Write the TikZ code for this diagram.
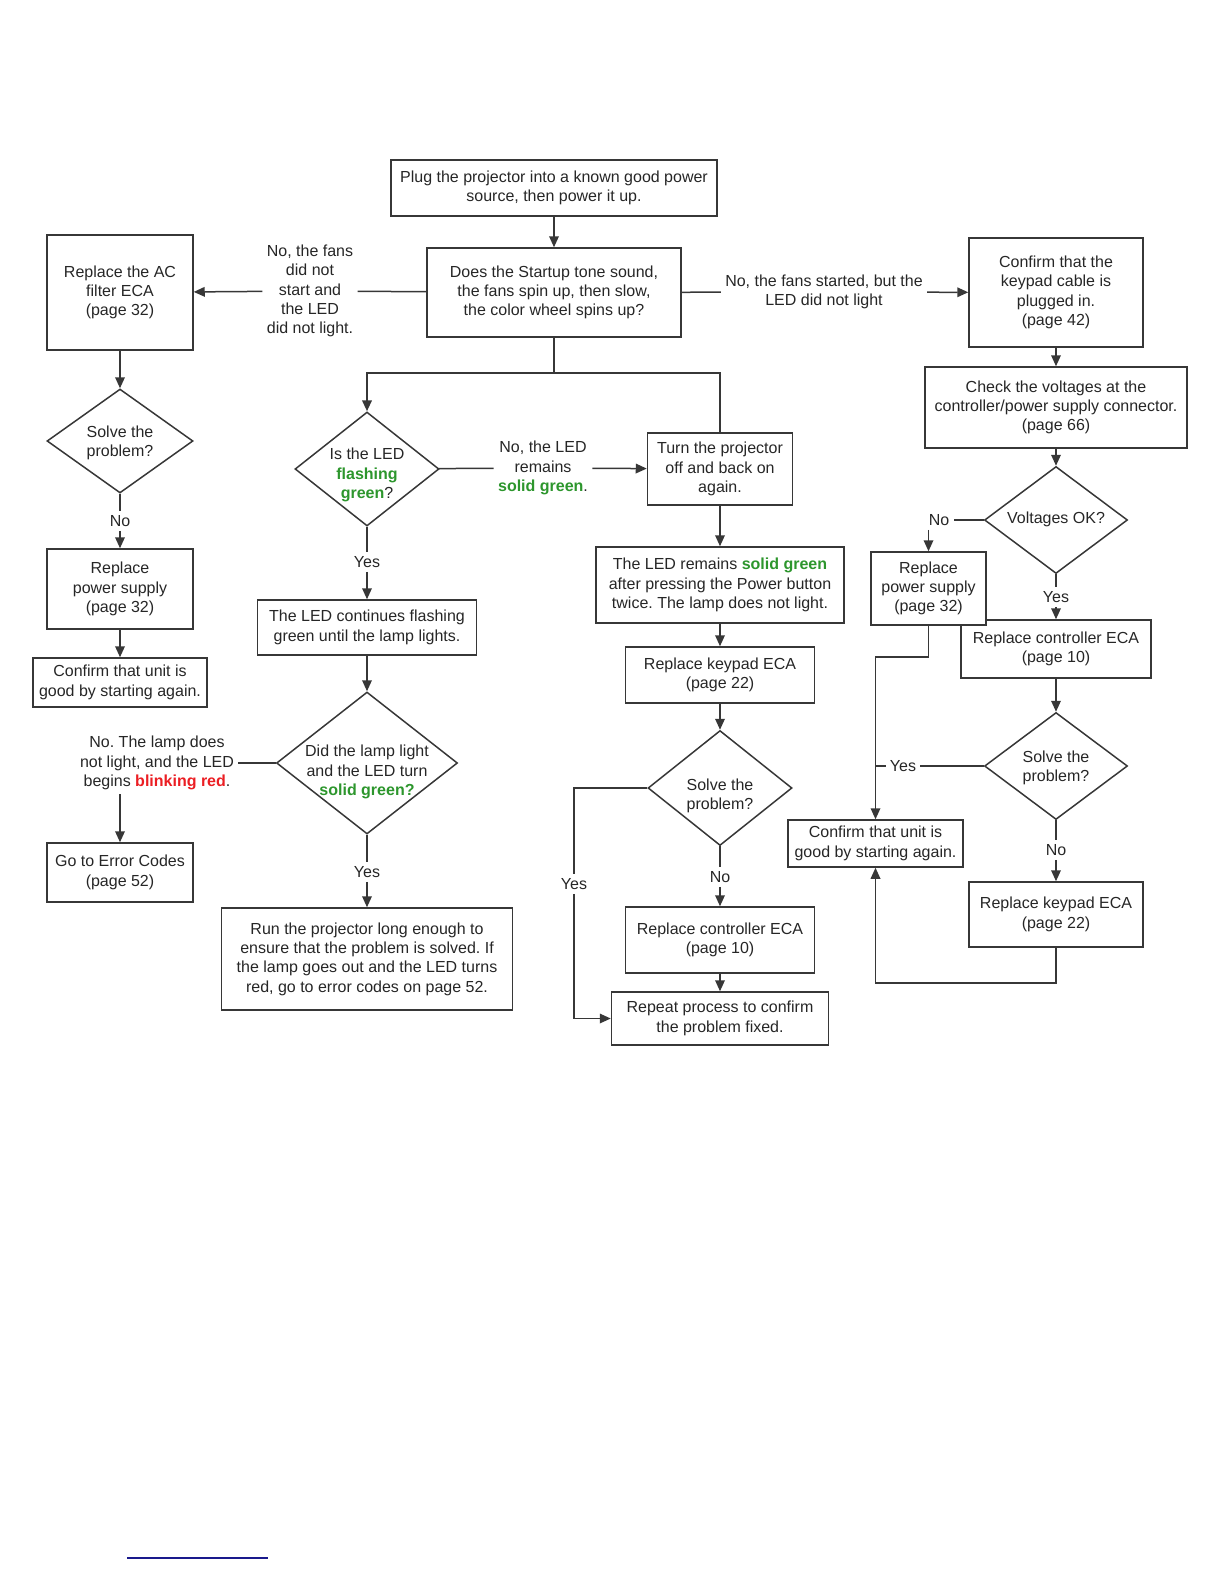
\documentclass[tikz,border=0pt]{standalone}
\usepackage{fontspec}
\setmainfont{Liberation Sans}
\usetikzlibrary{shapes.geometric,arrows.meta}
\frenchspacing

\definecolor{okgreen}{RGB}{45,150,45}
\definecolor{badred}{RGB}{235,30,35}
\definecolor{linegray}{RGB}{55,55,55}
\definecolor{rulenavy}{RGB}{25,25,140}

\newcommand{\good}[1]{\textcolor{okgreen}{\textbf{#1}}}
\newcommand{\bad}[1]{\textcolor{badred}{\textbf{#1}}}

\tikzset{
  txt/.style={align=center, inner sep=0pt, text=black!85, font=\fontsize{8}{9.65}\selectfont},
  qtxt/.style={txt, yshift=-1pt},
  box/.style={txt, draw=linegray, line width=0.75pt},
  choice/.style={draw=linegray, line width=0.75pt, diamond, inner sep=0pt},
  lbl/.style={txt, inner sep=2pt},
  link/.style={draw=linegray, line width=0.75pt},
  flow/.style={link, -{Triangle[length=5.5pt,width=4.8pt]}},
}

\begin{document}
\begin{tikzpicture}[x=0.5pt,y=-0.5pt]
\useasboundingbox (0,0) rectangle (1224,1584);

% top
\node[box, minimum width=163pt, minimum height=28pt] (plug) at (554,188) {Plug the projector into a known good power\\source, then power it up.};
\node[box, minimum width=127pt, minimum height=44.5pt] (startup) at (554,292.5) {Does the Startup tone sound,\\the fans spin up, then slow,\\the color wheel spins up?};
\coordinate (split) at (554,373);

% left column
\node[lbl] (nofans) at (310,291) {No, the fans\\did not\\start and\\the LED\\did not light.};
\node[box, minimum width=73pt, minimum height=57.5pt] (acfilter) at (120,292.5) {Replace the AC\\filter ECA\\(page 32)};
\node[choice, minimum width=73pt, minimum height=52pt, label={[qtxt]center:{Solve the\\problem?}}] (solveac) at (120,441) {};
\node[lbl] (noac) at (120,521) {No};
\node[box, minimum width=73pt, minimum height=40pt] (psleft) at (120,589) {Replace\\power supply\\(page 32)};
\node[box, minimum width=87pt, minimum height=24.5pt] (confleft) at (120,682.5) {Confirm that unit is\\good by starting again.};
\node[lbl] (lampout) at (157,763) {No. The lamp does\\not light, and the LED\\begins \bad{blinking red}.};
\node[box, minimum width=73pt, minimum height=29.5pt] (errcodes) at (120,872.5) {Go to Error Codes\\(page 52)};

% flashing branch
\node[choice, minimum width=72pt, minimum height=57pt, label={[qtxt, yshift=-2pt]center:{Is the LED\\\good{flashing}\\\good{green}?}}] (flashq) at (367,469) {};
\node[lbl] (yesflash) at (367,562) {Yes};
\node[box, minimum width=109.5pt, minimum height=27.5pt] (flashing) at (367,627.5) {The LED continues flashing\\green until the lamp lights.};
\node[choice, minimum width=90.5pt, minimum height=71pt, label={[qtxt, yshift=-3.5pt]center:{Did the lamp light\\and the LED turn\\\good{solid green?}}}] (lampq) at (367,763) {};
\node[lbl] (yeslamp) at (367,872) {Yes};
\node[box, minimum width=145.5pt, minimum height=51pt] (runlong) at (367,959) {Run the projector long enough to\\ensure that the problem is solved. If\\the lamp goes out and the LED turns\\red, go to error codes on page 52.};

% solid green branch
\node[lbl] (nosolid) at (543,468) {No, the LED\\remains\\\good{solid green}.};
\node[box, minimum width=72.5pt, minimum height=36pt] (cycle) at (720,469) {Turn the projector\\off and back on\\again.};
\node[box, minimum width=124pt, minimum height=38pt] (remains) at (720,585) {The LED remains \good{solid green}\\after pressing the Power button\\twice. The lamp does not light.};
\node[box, minimum width=94.5pt, minimum height=28pt] (keymid) at (720,675) {Replace keypad ECA\\(page 22)};
\node[choice, minimum width=72pt, minimum height=57.5pt, label={[qtxt, yshift=-3pt]center:{Solve the\\problem?}}] (solvemid) at (720,788) {};
\node[lbl] (nomid) at (720,877) {No};
\node[lbl] (yesmid) at (574,884) {Yes};
\node[box, minimum width=94.5pt, minimum height=33pt] (ctrlmid) at (720,940) {Replace controller ECA\\(page 10)};
\node[box, minimum width=108.5pt, minimum height=26.5pt] (repeat) at (720,1018.5) {Repeat process to confirm\\the problem fixed.};

% right column
\node[lbl] (nolight) at (824,292) {No, the fans started, but the\\LED did not light};
\node[box, minimum width=87pt, minimum height=54.5pt] (cable) at (1056,292.5) {Confirm that the\\keypad cable is\\plugged in.\\(page 42)};
\node[box, minimum width=131pt, minimum height=40.5pt] (voltages) at (1056,407.5) {Check the voltages at the\\controller/power supply connector.\\(page 66)};
\node[choice, minimum width=71.5pt, minimum height=53.5pt, label={[txt, yshift=0.5pt]center:{Voltages OK?}}] (voltq) at (1056,520) {};
\node[lbl] (novolt) at (939,520) {No};
\node[lbl] (yesvolt) at (1056,597) {Yes};
\node[box, minimum width=95pt, minimum height=29pt] (ctrlright) at (1056,649) {Replace controller ECA\\(page 10)};
\node[box, fill=white, minimum width=57.5pt, minimum height=36.5pt] (psright) at (928.5,588.5) {Replace\\power supply\\(page 32)};
\node[choice, minimum width=71.5pt, minimum height=53.5pt, label={[qtxt]center:{Solve the\\problem?}}] (solveright) at (1056,766) {};
\node[lbl] (yesright) at (903,766) {Yes};
\node[lbl] (noright) at (1056,850) {No};
\node[box, minimum width=87pt, minimum height=32.5pt] (keyright) at (1056,914.5) {Replace keypad ECA\\(page 22)};
\node[box, minimum width=87.5pt, minimum height=23.5pt] (confright) at (875.5,843.5) {Confirm that unit is\\good by starting again.};

% connectors
\draw[flow] (plug) -- (startup);
\draw[link] (startup) -- (nofans);
\draw[flow] (nofans) -- (acfilter);
\draw[flow] (acfilter) -- (solveac);
\draw[link] (solveac) -- (noac);
\draw[flow] (noac) -- (psleft);
\draw[flow] (psleft) -- (confleft);
\draw[link, line width=1pt] (startup) -- (split);
\draw[flow, line width=1pt] (split) -| (flashq.north);
\draw[link] (split) -| (cycle.north);
\draw[link] (flashq) -- (nosolid);
\draw[flow] (nosolid) -- (cycle);
\draw[link] (flashq) -- (yesflash);
\draw[flow] (yesflash) -- (flashing);
\draw[flow] (flashing) -- (lampq);
\draw[link] (lampq) -- (lampout);
\draw[flow] (lampout.south -| errcodes.north) -- (errcodes);
\draw[link] (lampq) -- (yeslamp);
\draw[flow] (yeslamp) -- (runlong);
\draw[flow] (cycle) -- (remains);
\draw[flow] (remains) -- (keymid);
\draw[flow] (keymid) -- (solvemid);
\draw[link] (solvemid) -- (nomid);
\draw[flow] (nomid) -- (ctrlmid);
\draw[flow] (ctrlmid) -- (repeat);
\draw[link] (solvemid.west) -| (yesmid);
\draw[flow] (yesmid) |- (repeat.west);
\draw[link] (startup) -- (nolight);
\draw[flow] (nolight) -- (cable);
\draw[flow] (cable) -- (voltages);
\draw[flow] (voltages) -- (voltq);
\draw[link] (voltq) -- (novolt);
\draw[flow] (novolt.south -| psright.north) -- (psright);
\draw[link] (voltq) -- (yesvolt);
\draw[flow] (yesvolt) -- (ctrlright);
\draw[flow] (ctrlright) -- (solveright);
\draw[link] (solveright) -- (yesright);
\draw[link] (yesright.west) -- (yesright.west -| confright.north);
\draw[flow] (psright.south) -- ++(0,31) -| (confright.north);
\draw[link] (solveright) -- (noright);
\draw[flow] (noright) -- (keyright);
\draw[flow] (keyright.south) -- ++(0,35) -| (confright.south);

\draw[rulenavy, line width=0.6pt] (127,1558) -- (268,1558);
\end{tikzpicture}
\end{document}
